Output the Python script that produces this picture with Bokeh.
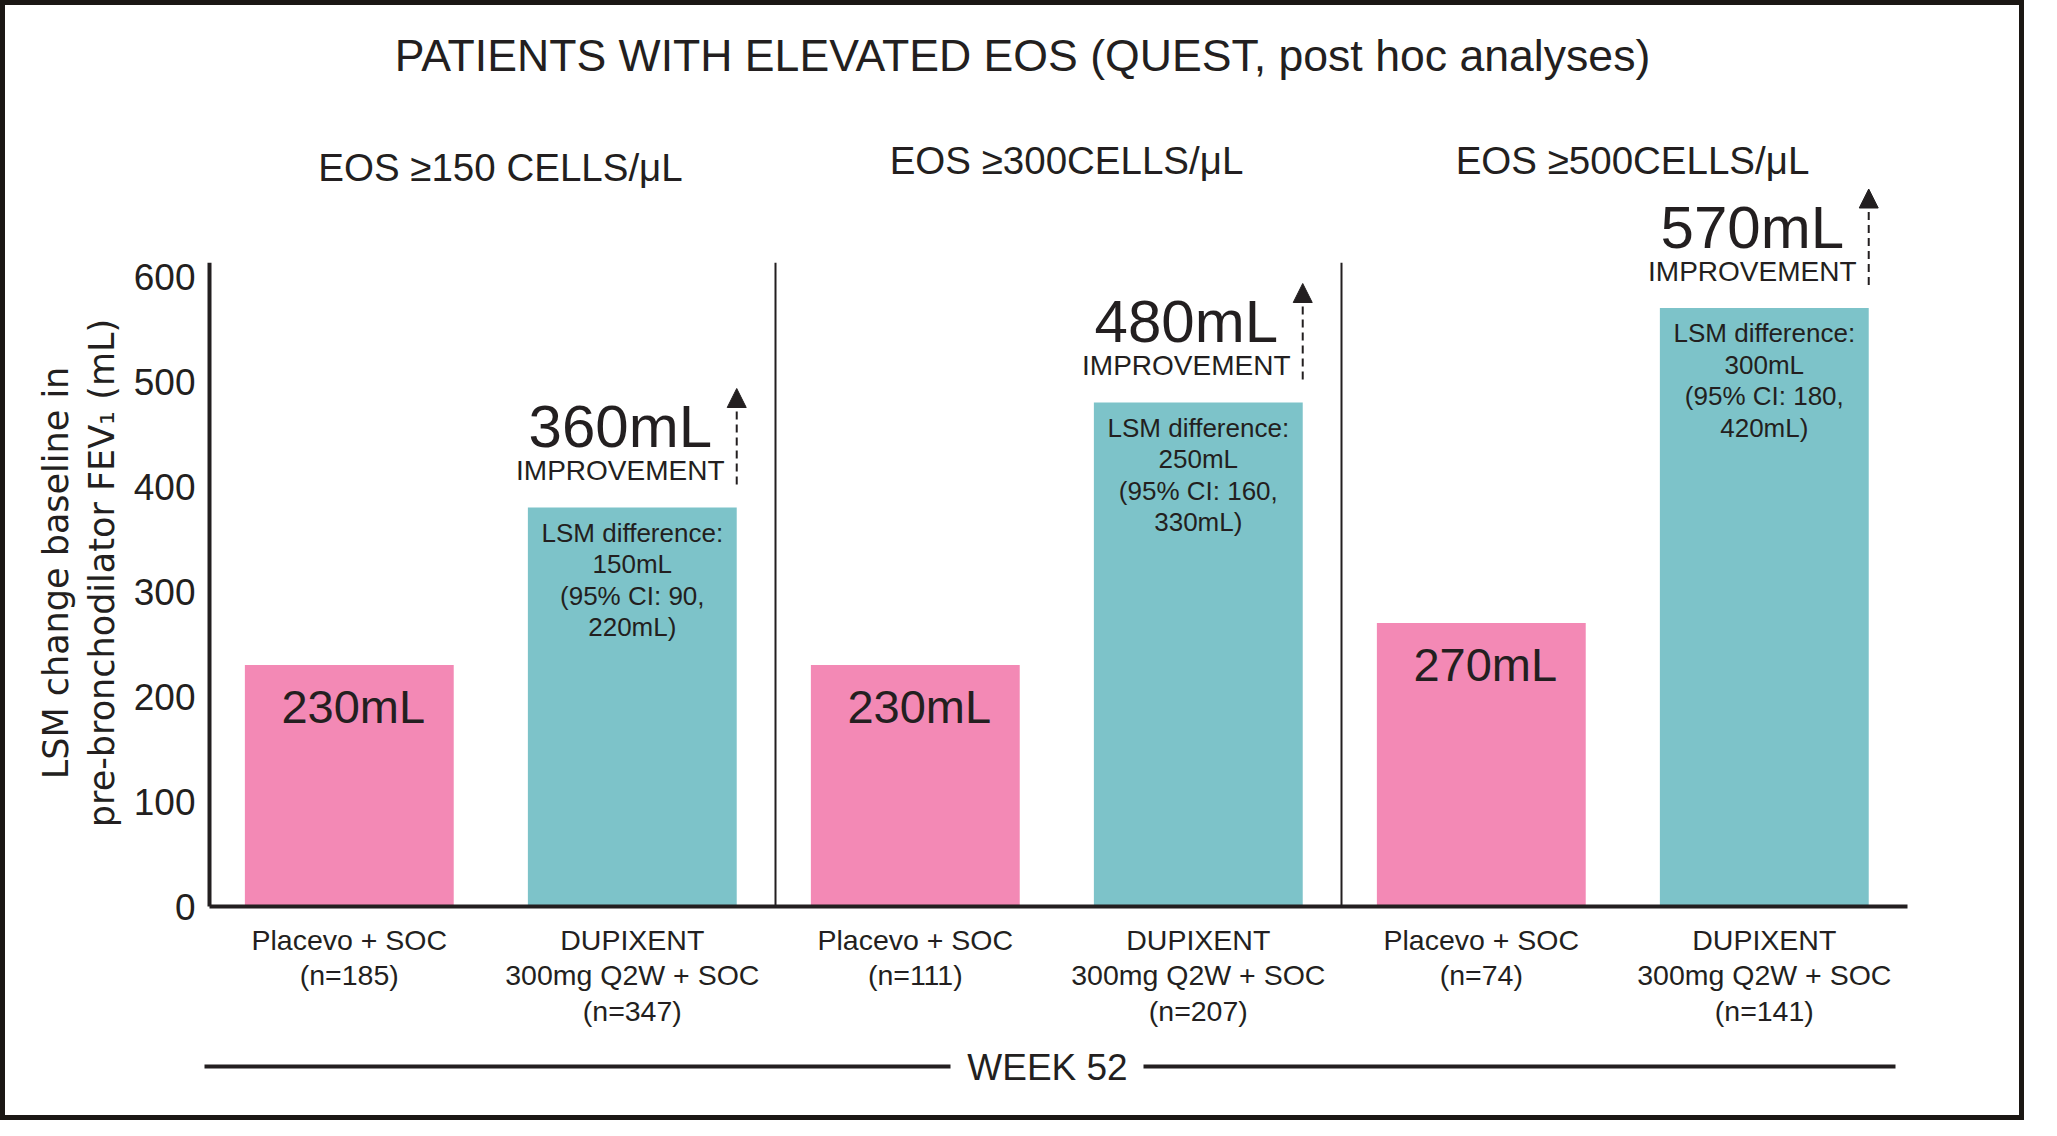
from bokeh.plotting import figure
from bokeh.layouts import column
from bokeh.models import Range1d, FixedTicker, ColumnDataSource, Arrow, NormalHead
from bokeh.core.properties import value
from bokeh.embed import file_html
from bokeh.resources import INLINE

# ---------------- data ----------------
title_text = "PATIENTS WITH ELEVATED EOS (QUEST, post hoc analyses)"
groups = ["EOS \u2265150 CELLS/\u03bcL", "EOS \u2265300CELLS/\u03bcL", "EOS \u2265500CELLS/\u03bcL"]
placebo_values = [230, 230, 270]
dupixent_values = [380, 480, 570]
improvement_values = [360, 480, 570]
lsm_difference = [150, 250, 300]
ci_low = [90, 160, 180]
ci_high = [220, 330, 420]
placebo_n = [185, 111, 74]
dupixent_n = [347, 207, 141]
placebo_name = "Placevo + SOC"
dupixent_name = "DUPIXENT\n300mg Q2W + SOC"
y_ticks = [0, 100, 200, 300, 400, 500, 600]
y_label = "LSM change baseline in\npre-bronchodilator FEV\u2081 (mL)"
week_text = "WEEK 52"

# ---------------- layout / style ----------------
BORDER = 5            # outer frame of the picture (px)
TOTAL_W, TOTAL_H = 2024, 1120
W, H = TOTAL_W - 2 * BORDER, TOTAL_H - 2 * BORDER
FRAME_LEFT = 198 - BORDER
FRAME_TOP = 30 - BORDER
AXIS_X = 209 - BORDER     # canvas px of x = 0
ZERO_Y = 906 - BORDER     # canvas px of y = 0
GROUP_PX = 566.0          # px per group
PX_PER_UNIT = 1.05        # px per mL
AXIS_TOP = 613
PINK = "#F389B5"
TEAL = "#7DC3C9"
INK = "#231f20"
FONT = "Liberation Sans"

def dx(px):
    return px / GROUP_PX

def dy(px):
    return px / PX_PER_UNIT

def ypix(page_y):
    return (ZERO_Y + BORDER - page_y) / PX_PER_UNIT

PINK_OFF, TEAL_OFF, BAR_W = 0.247, 0.747, 0.369

p = figure(width=W, height=H, output_backend="svg", toolbar_location=None,
           x_range=Range1d((FRAME_LEFT - AXIS_X) / GROUP_PX, (W - AXIS_X) / GROUP_PX),
           y_range=Range1d(-(H - ZERO_Y) / PX_PER_UNIT, (ZERO_Y - FRAME_TOP) / PX_PER_UNIT),
           x_axis_location=None, y_axis_location="left",
           min_border_left=FRAME_LEFT, min_border_right=0, min_border_top=FRAME_TOP,
           min_border_bottom=0)
p.outline_line_color = None
p.xgrid.visible = False
p.ygrid.visible = False
p.background_fill_color = "white"
p.border_fill_color = "white"

ax = p.yaxis[0]
ax.ticker = FixedTicker(ticks=y_ticks)
ax.axis_line_color = None
ax.major_tick_line_color = None
ax.minor_tick_line_color = None
ax.major_tick_out = 0
ax.major_tick_in = 0
ax.major_label_standoff = 3
ax.major_label_text_font = FONT
ax.major_label_text_font_size = "37px"
ax.major_label_text_color = INK
ax.axis_label = y_label
ax.axis_label_text_font = "DejaVu Sans"
ax.axis_label_text_font_size = "35px"
ax.axis_label_text_font_style = "normal"
ax.axis_label_text_color = INK
ax.axis_label_text_line_height = 1.14
ax.axis_label_standoff = 9

gi = list(range(len(groups)))
pink_x = [g + PINK_OFF for g in gi]
teal_x = [g + TEAL_OFF for g in gi]

# bars
p.vbar(x=pink_x, top=placebo_values, width=BAR_W, bottom=0, fill_color=PINK, line_color=None)
p.vbar(x=teal_x, top=dupixent_values, width=BAR_W, bottom=0, fill_color=TEAL, line_color=None)

# axis lines and group separators
p.segment(x0=[0], y0=[0], x1=[0], y1=[AXIS_TOP], line_color=INK, line_width=4)
p.segment(x0=[0], y0=[0], x1=[len(groups)], y1=[0], line_color=INK, line_width=4)
p.segment(x0=gi[1:], y0=[0] * (len(gi) - 1), x1=gi[1:], y1=[AXIS_TOP] * (len(gi) - 1),
          line_color=INK, line_width=2)

# placebo value labels
p.text(x=[x + dx(4) for x in pink_x], y=[v - dy(41) for v in placebo_values],
       text=[f"{v}mL" for v in placebo_values], text_font=value(FONT), text_font_size="47px",
       text_align="center", text_baseline="alphabetic", text_color=INK)

# LSM difference text inside teal bars
p.text(x=teal_x, y=[v - dy(10) for v in dupixent_values],
       text=[f"LSM difference:\n{d}mL\n(95% CI: {lo},\n{hi}mL)"
             for d, lo, hi in zip(lsm_difference, ci_low, ci_high)],
       text_font=value(FONT), text_font_size="26px", text_line_height=1.05,
       text_align="center", text_baseline="top", text_color=INK)

# improvement labels
p.text(x=[x - dx(12) for x in teal_x], y=[v + dy(81) for v in dupixent_values],
       text=[f"{v}mL" for v in improvement_values], text_font=value(FONT), text_font_size="60px",
       text_align="center", text_baseline="alphabetic", text_color=INK)
p.text(x=[x - dx(12) for x in teal_x], y=[v + dy(37) for v in dupixent_values],
       text=["IMPROVEMENT"] * len(gi), text_font=value(FONT), text_font_size="28px",
       text_align="center", text_baseline="alphabetic", text_color=INK)

arrow_src = ColumnDataSource(dict(x=[x + BAR_W / 2 for x in teal_x],
                                  y0=[v + dy(23) for v in dupixent_values],
                                  y1=[v + dy(119) for v in dupixent_values]))
p.add_layout(Arrow(end=NormalHead(size=19, fill_color=INK, line_color=INK),
                   x_start="x", y_start="y0", x_end="x", y_end="y1", source=arrow_src,
                   line_color=INK, line_width=2, line_dash="8 5"))

# category labels
p.text(x=pink_x, y=[-dy(17)] * len(gi),
       text=[f"{placebo_name}\n(n={n})" for n in placebo_n], text_font=value(FONT),
       text_font_size="28.5px", text_line_height=1.115, text_align="center",
       text_baseline="top", text_color=INK)
p.text(x=teal_x, y=[-dy(17)] * len(gi),
       text=[f"{dupixent_name}\n(n={n})" for n in dupixent_n], text_font=value(FONT),
       text_font_size="28.5px", text_line_height=1.115, text_align="center",
       text_baseline="top", text_color=INK)

# group titles
p.text(x=[g + 0.5 + dx(8) for g in gi], y=[ypix(c) for c in (167, 160, 160)], text=groups,
       text_font=value(FONT), text_font_size="38.5px", text_align="center",
       text_baseline="alphabetic", text_color=INK)

# main title
p.text(x=[1.5 - dx(36)], y=[ypix(55)], text=[title_text], text_font=value(FONT),
       text_font_size="44.6px", text_align="center", text_baseline="alphabetic", text_color=INK)

# WEEK 52 footer
week_x = 1.5 - dx(11)
p.text(x=[week_x], y=[ypix(1067)], text=[week_text], text_font=value(FONT),
       text_font_size="37px", text_align="center", text_baseline="alphabetic", text_color=INK)
p.segment(x0=[-dx(5), week_x + dx(96)], y0=[ypix(1066)] * 2,
          x1=[week_x - dx(97), len(groups) - dx(12)], y1=[ypix(1066)] * 2,
          line_color=INK, line_width=4)

# the outer dark frame of the picture
page = column(p, styles={"border": f"{BORDER}px solid #1b1714", "background-color": "white"})

open("out.html", "w").write(file_html(page, INLINE))
